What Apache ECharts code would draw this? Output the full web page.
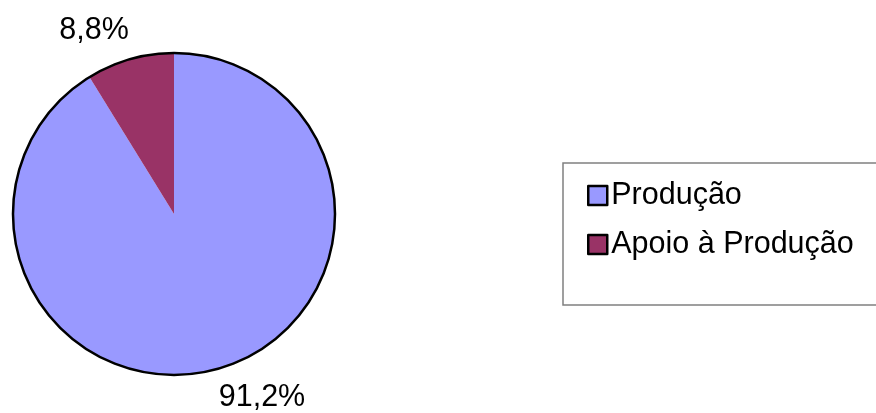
<!DOCTYPE html>
<html>
<head>
<meta charset="utf-8">
<script src="https://cdn.jsdelivr.net/npm/echarts@6/dist/echarts.min.js"></script>
<style>
html,body{margin:0;padding:0;background:#fff;}
#chart{width:876px;height:413px;}
</style>
</head>
<body>
<div id="chart"></div>
<script>
var categories = ['Produção', 'Apoio à Produção'];
var values = [91.2, 8.8];
var colors = ['#9999FF', '#993366'];

var FONT = '"Liberation Sans", Arial, sans-serif';
var labelAnchors = [[262, 398], [94, 31]];

var chart = echarts.init(document.getElementById('chart'), null, {renderer: 'canvas'});
var pieData = categories.map(function (c, i) {
  return {name: c, value: values[i], itemStyle: {color: colors[i]}};
});
chart.setOption({
  backgroundColor: '#ffffff',
  animation: false,
  legend: {
    data: categories,
    orient: 'vertical',
    left: 563,
    top: 163,
    padding: [17, 60, 45, 24],
    itemWidth: 19,
    itemHeight: 19,
    itemGap: 18,
    icon: 'rect',
    borderColor: '#808080',
    borderWidth: 1.5,
    itemStyle: {borderColor: '#000', borderWidth: 2.5},
    textStyle: {fontFamily: FONT, fontSize: 30.5, color: '#000', lineHeight: 30, padding: [0, 0, 0, -1]},
    selectedMode: false
  },
  series: [
    {
      type: 'pie',
      center: [174, 214],
      radius: 161,
      startAngle: 90,
      clockwise: true,
      silent: true,
      data: pieData,
      itemStyle: {borderWidth: 0},
      emphasis: {disabled: true},
      labelLine: {show: false},
      label: {
        show: true,
        position: 'outside',
        fontFamily: FONT,
        fontSize: 30.5,
        color: '#000',
        formatter: function (p) { return p.value.toFixed(1).replace('.', ',') + '%'; }
      },
      labelLayout: function (p) {
        var a = labelAnchors[p.dataIndex];
        return {x: a[0], y: a[1], align: 'center', verticalAlign: 'middle'};
      }
    },
    {
      type: 'pie',
      center: [174, 214],
      radius: 161,
      silent: true,
      z: 5,
      data: [{name: '__outline', value: 1}],
      itemStyle: {color: 'rgba(0,0,0,0)', borderColor: '#000', borderWidth: 2.5},
      label: {show: false},
      labelLine: {show: false},
      emphasis: {disabled: true}
    }
  ]
});
</script>
</body>
</html>
